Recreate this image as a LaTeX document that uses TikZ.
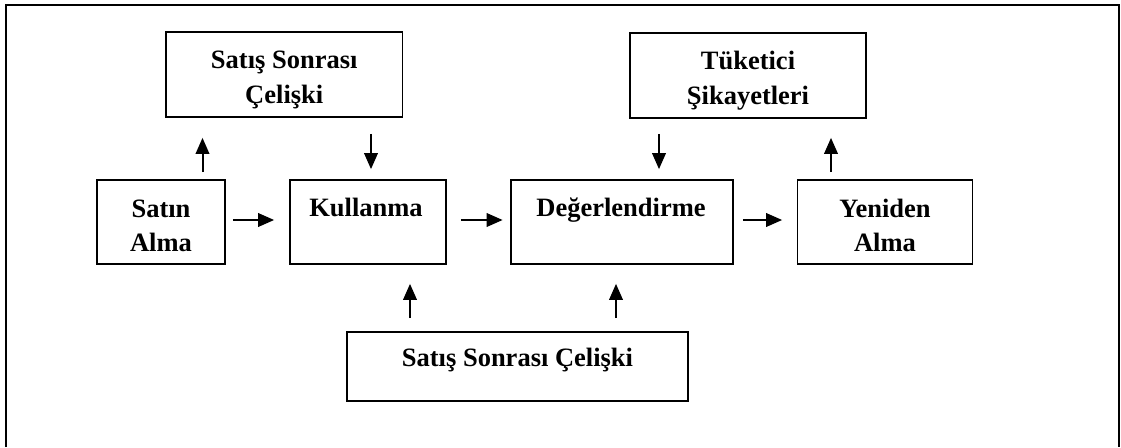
\documentclass[tikz,border=0pt]{standalone}
\usepackage{fontspec}
\setmainfont{Liberation Serif}
\usetikzlibrary{arrows.meta}
\begin{document}
\begin{tikzpicture}[x=1pt,y=-1pt,
  box/.style={draw,line width=1.7pt,inner sep=0pt},
  txt/.style={anchor=base,inner sep=0pt,font=\bfseries\fontsize{26.5}{35}\selectfont},
  arr/.style={line width=2pt,-{Triangle[length=16pt,width=13.5pt]}}]
\useasboundingbox (0,0) rectangle (1121,447);
\draw[line width=2.2pt] (6,447) -- (6,5) -- (1119,5) -- (1119,447);
% boxes
\node[box,minimum width=236.5pt,minimum height=85pt] (t1) at (284.25,74.5) {};
\node[box,minimum width=236pt,minimum height=85pt] (t2) at (748,75.5) {};
\node[box,minimum width=128pt,minimum height=84pt] (sat) at (161,222) {};
\node[box,minimum width=156pt,minimum height=84pt] (kul) at (368,222) {};
\node[box,minimum width=222pt,minimum height=84pt] (deg) at (622,222) {};
\node[box,minimum width=175pt,minimum height=84pt] (yen) at (885,222) {};
\node[box,minimum width=341pt,minimum height=69pt] (bot) at (517.5,366.5) {};
% texts
\node[txt] (t1a) at (284.25,68.5) {Satış Sonrası};
\node[txt] (t1b) at (284.25,103.5) {Çelişki};
\node[txt] (t2a) at (748,69) {Tüketici};
\node[txt] (t2b) at (748,104) {Şikayetleri};
\node[txt] (sata) at (161,217) {Satın};
\node[txt] (satb) at (161,251) {Alma};
\node[txt] (kult) at (366,216) {Kullanma};
\node[txt] (degt) at (621,216) {Değerlendirme};
\node[txt] (yena) at (885,217) {Yeniden};
\node[txt] (yenb) at (885,251) {Alma};
\node[txt] (bott) at (517.5,366) {Satış Sonrası Çelişki};
% arrow positions
\coordinate (xa) at (202.5,0);
\coordinate (xb) at (371,0);
\coordinate (xc) at (659,0);
\coordinate (xd) at (831,0);
\coordinate (xe) at (410,0);
\coordinate (xf) at (616,0);
\coordinate (yr) at (0,220);
% arrows
\draw[arr,shorten <=7pt,shorten >=20pt] (sat.north -| xa) -- (t1.south -| xa);
\draw[arr,shorten <=16pt,shorten >=10pt] (t1.south -| xb) -- (kul.north -| xb);
\draw[arr,shorten <=15pt,shorten >=10pt] (t2.south -| xc) -- (deg.north -| xc);
\draw[arr,shorten <=7pt,shorten >=19pt] (yen.north -| xd) -- (t2.south -| xd);
\draw[arr,shorten <=7pt,shorten >=15pt] (sat.east |- yr) -- (kul.west |- yr);
\draw[arr,shorten <=14pt,shorten >=7.5pt] (kul.east |- yr) -- (deg.west |- yr);
\draw[arr,shorten <=9pt,shorten >=14.5pt] (deg.east |- yr) -- (yen.west |- yr);
\draw[arr,shorten <=13pt,shorten >=19pt] (bot.north -| xe) -- (kul.south -| xe);
\draw[arr,shorten <=13pt,shorten >=19pt] (bot.north -| xf) -- (deg.south -| xf);
\end{tikzpicture}
\end{document}
